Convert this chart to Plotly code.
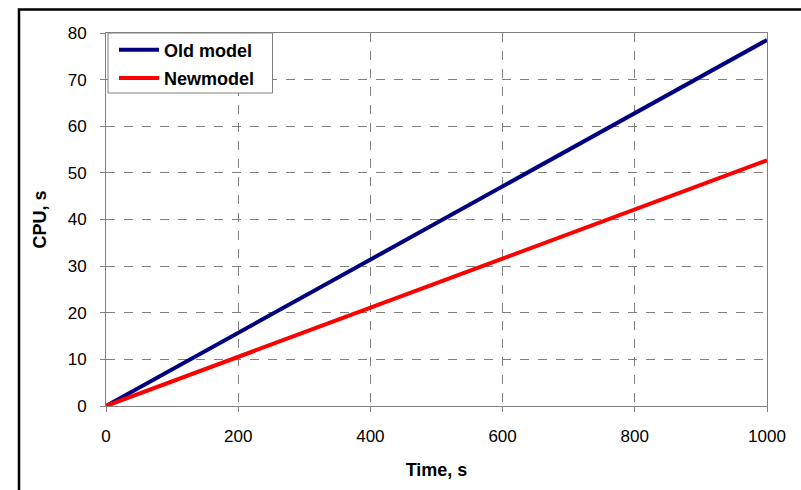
import plotly.graph_objects as go

time_s = [0, 200, 400, 600, 800, 1000]
old_model = [0, 15.7, 31.4, 47.1, 62.8, 78.5]
new_model = [0, 10.5, 21.1, 31.6, 42.1, 52.7]
x_ticks = [0, 200, 400, 600, 800, 1000]
y_ticks = [0, 10, 20, 30, 40, 50, 60, 70, 80]

W, H = 801, 490
L, R, T, B = 106, 767, 33, 406

fig = go.Figure()
fig.add_trace(go.Scatter(x=time_s, y=old_model, mode="lines", name="<b>Old model</b>",
                         legendgroup="a", line=dict(color="#000080", width=4)))
fig.add_trace(go.Scatter(x=time_s, y=new_model, mode="lines", name="<b>Newmodel</b>",
                         legendgroup="b", line=dict(color="#FF0000", width=4)))

font = "Liberation Sans, Arial, sans-serif"
axis_common = dict(
    showline=True, linecolor="#808080", linewidth=1, mirror=True,
    showgrid=True, gridcolor="#808080", griddash="dash", gridwidth=1,
    ticks="outside", ticklen=5, tickcolor="#808080",
    zeroline=False,
    tickfont=dict(family=font, size=17, color="#000000"),
)

fig.update_xaxes(range=[0, 1000], tickvals=x_ticks, ticklabelstandoff=10,
                 title=dict(text="<b>Time, s</b>", font=dict(family=font, size=18, color="#000"), standoff=17),
                 **axis_common)
fig.update_yaxes(range=[0, 80], tickvals=y_ticks, ticklabelstandoff=10,
                 title=dict(text="<b>CPU, s</b>", font=dict(family=font, size=18, color="#000"), standoff=16),
                 **axis_common)

def px(x):
    return (x - L) / (R - L)

def py(y):
    return (B - y) / (B - T)

# outer frame of the picture
fig.add_shape(type="path", xref="paper", yref="paper",
              path=f"M {px(19)} {py(495)} L {px(19)} {py(9.5)} L {px(805)} {py(9.5)}",
              line=dict(color="#000000", width=2.5))
# legend box
fig.add_shape(type="rect", xref="paper", yref="paper", layer="above",
              x0=px(108), x1=px(272.5), y0=py(93), y1=py(33),
              fillcolor="white", line=dict(color="#808080", width=1))

fig.update_layout(
    width=W, height=H,
    margin=dict(l=L, r=W - R, t=T, b=H - B),
    paper_bgcolor="white", plot_bgcolor="white",
    font=dict(family=font, color="#000"),
    showlegend=True,
    legend=dict(x=px(114), y=py(31.5), xanchor="left", yanchor="top",
                bgcolor="rgba(0,0,0,0)", borderwidth=0,
                font=dict(family=font, size=18, color="#000"),
                tracegroupgap=2, itemwidth=40),
)

fig.write_html("out.html")
